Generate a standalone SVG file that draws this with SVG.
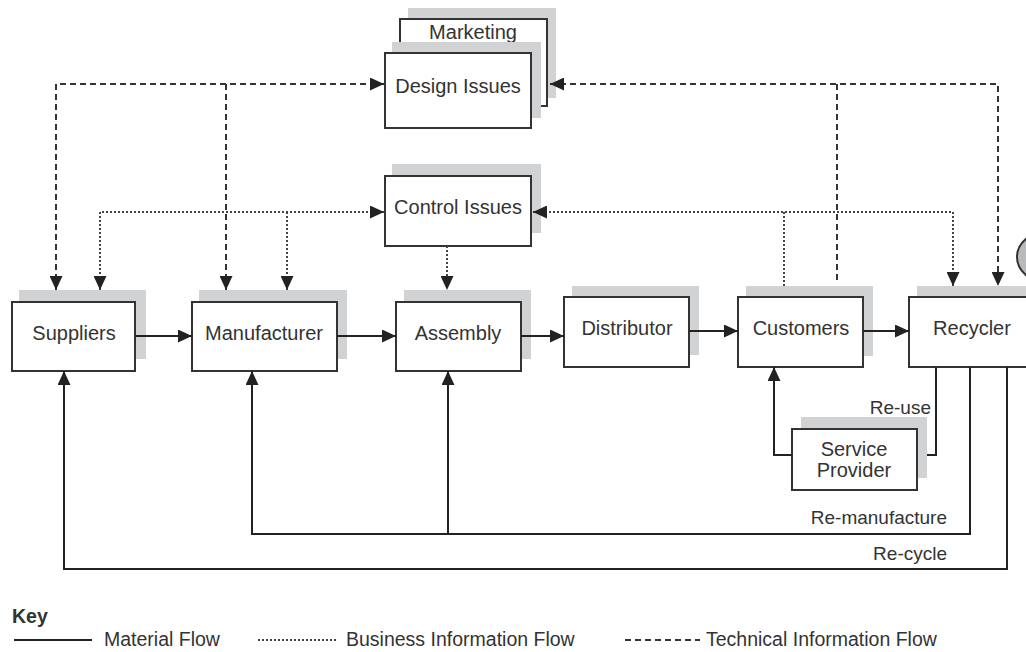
<svg xmlns="http://www.w3.org/2000/svg" width="1026" height="652" viewBox="0 0 1026 652">
  <defs>
    <style>
      .box { fill: #ffffff; stroke: #333333; stroke-width: 2; }
      .shadow { fill: #d1d2d4; stroke: none; }
      .lbl { font-family: "Liberation Sans", Arial, sans-serif; font-size: 20px; fill: #333333; text-anchor: middle; }
      .note { font-family: "Liberation Sans", Arial, sans-serif; font-size: 19px; fill: #333333; text-anchor: end; }
      .key { font-family: "Liberation Sans", Arial, sans-serif; font-size: 19.5px; fill: #333333; }
      .mat { fill: none; stroke: #222222; stroke-width: 2; }
      .biz { fill: none; stroke: #444444; stroke-width: 2; stroke-dasharray: 2 2; }
      .tech { fill: none; stroke: #333333; stroke-width: 2; stroke-dasharray: 6 4; }
    </style>
    <marker id="arrow" markerUnits="userSpaceOnUse" markerWidth="15" markerHeight="13" refX="14" refY="6.5" orient="auto-start-reverse">
      <path d="M0,0 L14,6.5 L0,13 Z" fill="#222222" stroke="none"/>
    </marker>
  </defs>

  <!-- Marketing / Design Issues stack -->
  <g id="marketing">
    <rect class="shadow" x="408" y="8" width="148" height="90"/>
    <rect class="box" x="400" y="19" width="147" height="87"/>
    <text class="lbl" x="473" y="39">Marketing</text>
  </g>
  <g id="design-issues">
    <rect class="shadow" x="392" y="42" width="149" height="76"/>
    <rect class="box" x="385" y="53" width="146" height="75"/>
    <text class="lbl" x="458" y="93">Design Issues</text>
  </g>

  <g id="control-issues">
    <rect class="shadow" x="392" y="164" width="149" height="69"/>
    <rect class="box" x="385" y="176" width="146" height="70"/>
    <text class="lbl" x="458" y="214">Control Issues</text>
  </g>

  <g id="suppliers">
    <rect class="shadow" x="19" y="290" width="127" height="69"/>
    <rect class="box" x="12" y="302" width="123" height="69"/>
    <text class="lbl" x="74" y="340">Suppliers</text>
  </g>

  <g id="manufacturer">
    <rect class="shadow" x="199" y="290" width="148" height="69"/>
    <rect class="box" x="192" y="302" width="145" height="69"/>
    <text class="lbl" x="264" y="340">Manufacturer</text>
  </g>

  <g id="assembly">
    <rect class="shadow" x="404" y="290" width="127" height="69"/>
    <rect class="box" x="396" y="302" width="125" height="69"/>
    <text class="lbl" x="458" y="340">Assembly</text>
  </g>

  <g id="distributor">
    <rect class="shadow" x="572" y="286" width="127" height="69"/>
    <rect class="box" x="564" y="297" width="125" height="70"/>
    <text class="lbl" x="627" y="335">Distributor</text>
  </g>

  <g id="customers">
    <rect class="shadow" x="746" y="286" width="127" height="70"/>
    <rect class="box" x="738" y="297" width="125" height="70"/>
    <text class="lbl" x="801" y="335">Customers</text>
  </g>

  <g id="recycler">
    <rect class="shadow" x="917" y="286" width="130" height="70"/>
    <rect class="box" x="909" y="297" width="130" height="70"/>
    <text class="lbl" x="972" y="335">Recycler</text>
    <ellipse cx="1046" cy="257" rx="29" ry="25" fill="#b9babc" stroke="#333333" stroke-width="2"/>
  </g>

  <g id="service-provider">
    <rect class="shadow" x="801" y="417" width="126" height="61"/>
    <rect class="box" x="792" y="429" width="125" height="61"/>
    <text class="lbl" x="854" y="456">Service</text>
    <text class="lbl" x="854" y="477">Provider</text>
  </g>

  <g id="connectors">
    <!-- technical information flow -->
    <polyline class="tech" points="56,290 56,84 384,84" marker-start="url(#arrow)" marker-end="url(#arrow)"/>
    <line class="tech" x1="226" y1="84" x2="226" y2="290" marker-end="url(#arrow)"/>
    <polyline class="tech" points="550,84 998,84 998,286" marker-start="url(#arrow)" marker-end="url(#arrow)"/>
    <line class="tech" x1="837" y1="84" x2="837" y2="281"/>

    <!-- business information flow -->
    <polyline class="biz" points="100,290 100,212 384,212" marker-start="url(#arrow)" marker-end="url(#arrow)"/>
    <line class="biz" x1="287" y1="212" x2="287" y2="290" marker-end="url(#arrow)"/>
    <polyline class="biz" points="533,212 953,212 953,286" marker-start="url(#arrow)" marker-end="url(#arrow)"/>
    <line class="biz" x1="784" y1="212" x2="784" y2="286"/>
    <line class="biz" x1="447" y1="246" x2="447" y2="290" marker-end="url(#arrow)"/>

    <!-- material flow along the chain -->
    <line class="mat" x1="135" y1="336" x2="192" y2="336" marker-end="url(#arrow)"/>
    <line class="mat" x1="337" y1="336" x2="396" y2="336" marker-end="url(#arrow)"/>
    <line class="mat" x1="521" y1="336" x2="564" y2="336" marker-end="url(#arrow)"/>
    <line class="mat" x1="689" y1="331" x2="738" y2="331" marker-end="url(#arrow)"/>
    <line class="mat" x1="863" y1="331" x2="909" y2="331" marker-end="url(#arrow)"/>

    <!-- return loops -->
    <polyline class="mat" points="936,367 936,455 927,455"/>
    <polyline class="mat" points="792,455 774,455 774,367" marker-end="url(#arrow)"/>
    <polyline class="mat" points="970,367 970,534 252,534 252,371" marker-end="url(#arrow)"/>
    <line class="mat" x1="448" y1="534" x2="448" y2="371" marker-end="url(#arrow)"/>
    <polyline class="mat" points="1007,367 1007,569 64,569 64,371" marker-end="url(#arrow)"/>

    <text class="note" x="931" y="414">Re-use</text>
    <text class="note" x="947" y="524">Re-manufacture</text>
    <text class="note" x="947" y="560">Re-cycle</text>
  </g>

  <!-- key -->
  <g id="key">
    <text class="key" x="12" y="623" font-weight="bold" font-size="17">Key</text>
    <line class="mat" x1="14" y1="640" x2="92" y2="640"/>
    <text class="key" x="104" y="646">Material Flow</text>
    <line class="biz" x1="258" y1="640" x2="337" y2="640"/>
    <text class="key" x="346" y="646">Business Information Flow</text>
    <line class="tech" x1="625" y1="640" x2="700" y2="640"/>
    <text class="key" x="706" y="646">Technical Information Flow</text>
  </g>
</svg>
